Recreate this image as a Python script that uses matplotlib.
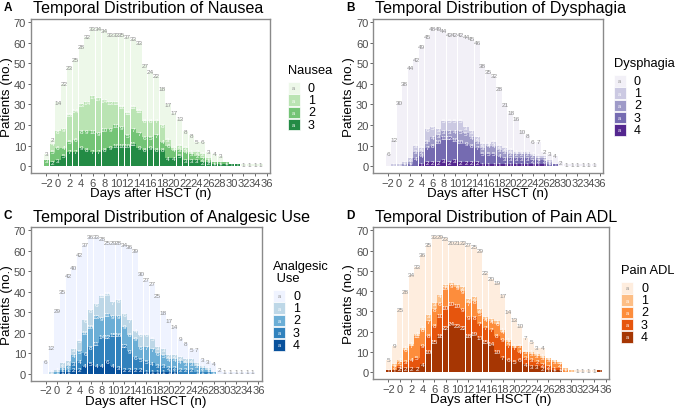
import matplotlib
matplotlib.use("Agg")
import matplotlib.pyplot as plt
from matplotlib.patches import Rectangle

plt.rcParams['font.family'] = ['Liberation Sans', 'DejaVu Sans']

# dny po HSCT
days = list(range(-2, 36))

# Nausea (stupen 0-3)
nausea_0 = [3, 2, 14, 22, 23, 25, 28, 32, 33, 34, 34, 33, 33, 35, 37, 33, 33, 27, 24, 22, 18, 17, 17, 13, 8, 8, 5, 6, 3, 4, 3, 0, 0, 0, 1, 1, 1, 1]
nausea_1 = [0, 4, 8, 9, 13, 14, 13, 14, 17, 17, 14, 13, 11, 10, 11, 11, 11, 8, 8, 7, 8, 3, 1, 2, 2, 1, 2, 2, 1, 0, 0, 0, 0, 0, 0, 0, 0, 0]
nausea_2 = [3, 5, 6, 4, 5, 6, 8, 9, 10, 9, 10, 9, 10, 9, 5, 7, 7, 6, 5, 7, 4, 6, 4, 3, 4, 3, 2, 2, 1, 1, 1, 1, 0, 0, 0, 0, 0, 0]
nausea_3 = [0, 2, 3, 5, 7, 7, 9, 8, 7, 7, 8, 9, 10, 10, 10, 11, 9, 8, 9, 8, 8, 4, 4, 5, 3, 3, 3, 2, 2, 1, 1, 1, 1, 1, 0, 0, 0, 0]

# Dysphagia (stupen 0-4)
dys_0 = [6, 12, 30, 38, 44, 42, 49, 45, 48, 49, 44, 42, 42, 42, 44, 45, 46, 38, 35, 32, 28, 21, 18, 16, 10, 8, 6, 7, 2, 3, 4, 2, 1, 1, 1, 1, 1, 1]
dys_1 = [0, 1, 1, 1, 2, 3, 2, 6, 5, 3, 5, 5, 5, 5, 3, 3, 2, 2, 1, 2, 2, 2, 2, 1, 1, 1, 1, 1, 1, 1, 0, 0, 0, 0, 0, 0, 0, 0]
dys_2 = [0, 0, 0, 1, 1, 3, 2, 3, 4, 3, 3, 3, 4, 5, 5, 4, 3, 3, 4, 4, 3, 3, 2, 2, 2, 2, 2, 1, 1, 1, 0, 0, 0, 0, 0, 0, 0, 0]
dys_3 = [0, 0, 0, 0, 1, 4, 4, 7, 8, 10, 11, 12, 10, 10, 9, 8, 7, 5, 5, 5, 4, 3, 3, 3, 3, 3, 2, 2, 2, 1, 1, 0, 0, 0, 0, 0, 0, 0]
dys_4 = [0, 0, 0, 0, 0, 0, 1, 2, 2, 2, 3, 2, 3, 2, 2, 2, 2, 1, 1, 1, 1, 1, 1, 1, 1, 1, 1, 1, 1, 0, 0, 0, 0, 0, 0, 0, 0, 0]

# Analgesic Use (stupen 0-4)
anal_0 = [6, 12, 29, 35, 42, 40, 42, 37, 36, 33, 28, 25, 29, 28, 34, 36, 39, 30, 27, 27, 25, 18, 17, 14, 9, 8, 5, 7, 3, 3, 4, 2, 1, 1, 1, 1, 1, 1]
anal_1 = [0, 1, 1, 2, 2, 3, 5, 6, 8, 6, 11, 10, 7, 8, 6, 7, 4, 6, 6, 5, 3, 3, 2, 2, 2, 2, 2, 1, 1, 1, 0, 0, 0, 0, 0, 0, 0, 0]
anal_2 = [0, 0, 1, 1, 2, 4, 5, 10, 10, 13, 9, 11, 9, 9, 9, 8, 9, 6, 7, 7, 6, 5, 4, 4, 4, 3, 3, 3, 2, 1, 1, 0, 0, 0, 0, 0, 0, 0]
anal_3 = [0, 0, 0, 1, 1, 3, 4, 6, 8, 11, 14, 12, 15, 16, 12, 9, 6, 5, 5, 4, 3, 3, 2, 2, 2, 2, 2, 1, 1, 1, 0, 0, 0, 0, 0, 0, 0, 0]
anal_4 = [0, 0, 0, 1, 1, 2, 2, 4, 5, 4, 4, 6, 4, 3, 2, 2, 2, 2, 1, 1, 1, 1, 1, 1, 0, 0, 0, 0, 0, 0, 0, 0, 0, 0, 0, 0, 0, 0]

# Pain ADL (stupen 0-4)
pain_0 = [5, 9, 25, 28, 34, 33, 36, 35, 33, 29, 23, 20, 21, 22, 27, 25, 29, 22, 20, 19, 17, 14, 13, 10, 7, 5, 3, 4, 0, 0, 0, 0, 0, 1, 1, 1, 1, 0]
pain_1 = [0, 1, 1, 1, 1, 1, 1, 3, 3, 4, 1, 1, 1, 2, 2, 2, 2, 1, 1, 1, 1, 1, 0, 0, 0, 1, 1, 1, 1, 1, 1, 1, 1, 0, 0, 0, 0, 0]
pain_2 = [0, 2, 2, 6, 7, 11, 8, 7, 8, 6, 10, 9, 9, 9, 7, 8, 5, 4, 4, 6, 4, 2, 1, 3, 3, 3, 3, 3, 3, 3, 2, 1, 0, 0, 0, 0, 0, 0]
pain_3 = [0, 0, 1, 3, 4, 5, 9, 8, 8, 10, 10, 10, 10, 9, 9, 8, 7, 7, 7, 8, 9, 7, 7, 4, 3, 3, 2, 2, 2, 1, 1, 0, 0, 0, 0, 0, 0, 0]
pain_4 = [1, 1, 2, 2, 2, 2, 4, 10, 15, 18, 22, 24, 23, 22, 18, 19, 17, 15, 14, 10, 7, 6, 5, 6, 4, 3, 3, 2, 1, 1, 1, 0, 0, 0, 0, 0, 0, 1]

greens = ['#edf8e9', '#bae4b3', '#74c476', '#238b45']
purples = ['#f2f0f7', '#cbc9e2', '#9e9ac8', '#756bb1', '#54278f']
blues = ['#eff3ff', '#bdd7e7', '#6baed6', '#3182bd', '#08519c']
oranges = ['#feedde', '#fdbe85', '#fd8d3c', '#e6550d', '#a63603']

W, H = 677, 410


def px(x, y):
    return x / W, 1 - y / H


def panel(rect, grades, colors, title, letter, legend_title, leg):
    left, top, right, bottom = rect
    ax = fig.add_axes([left / W, 1 - bottom / H, (right - left) / W, (bottom - top) / H])
    # poradi stohu: nejvyssi stupen dole, stupen 0 nahore
    base = [0] * len(days)
    for g in range(len(grades) - 1, -1, -1):
        vals = grades[g]
        ax.bar(days, vals, width=0.9, bottom=base, color=colors[g], edgecolor='none', zorder=2)
        for d, v, b in zip(days, vals, base):
            if v > 0:
                ax.text(d, b + v, str(v), ha='center', va='center', fontsize=4.6,
                        color='#8c8c8c' if g == 0 else 'white', zorder=3)
        base = [b + v for b, v in zip(base, vals)]
    ax.set_xlim(-4.7, 36.6)
    ax.set_ylim(-3.4, 71.5)
    ax.set_xticks(range(-2, 37, 2))
    ax.set_yticks(range(0, 71, 10))
    ax.tick_params(colors='#4d4d4d', labelsize=8, length=2.5, width=0.6, pad=0.8)
    for s in ax.spines.values():
        s.set_color('#8a8a8a')
        s.set_linewidth(1.0)
    # popisky os
    fig.text(*px((left + right) / 2, bottom + 20), 'Days after HSCT (n)', fontsize=9.6,
             ha='center', va='center')
    fig.text(*px(left - 24, (top + bottom) / 2), 'Patients (no.)', fontsize=9.6,
             ha='center', va='center', rotation=90)
    fig.text(*px(left + 2, top - 11), title, fontsize=11.6, va='center', ha='left')
    fig.text(*px(left - 27, top - 12), letter, fontsize=8.5, fontweight='bold', va='center', ha='left')

    # legenda
    lx, ly = leg
    fig.text(*px(lx, ly), legend_title, fontsize=9.3, va='bottom', ha='left', linespacing=1.0)
    for g, c in enumerate(colors):
        y0 = ly + 6 + g * 12.3
        fig.patches.append(Rectangle(px(lx, y0 + 11.5), 11.5 / W, 11.5 / H, transform=fig.transFigure,
                                     facecolor=c, edgecolor='white', linewidth=0.5))
        fig.text(*px(lx + 5.75, y0 + 5.75), 'a', fontsize=4, ha='center', va='center',
                 color='#8c8c8c' if g == 0 else 'white')
        fig.text(*px(lx + 20, y0 + 5.75), str(g), fontsize=9, ha='left', va='center', color='black')
    return ax


fig = plt.figure(figsize=(W / 100, H / 100), dpi=100)

panel((30.7, 20, 270, 174.3), [nausea_0, nausea_1, nausea_2, nausea_3], greens,
      'Temporal Distribution of Nausea', 'A', 'Nausea', (288, 77))
panel((373, 20, 603, 174.3), [dys_0, dys_1, dys_2, dys_3, dys_4], purples,
      'Temporal Distribution of Dysphagia', 'B', 'Dysphagia', (614, 70))
panel((30.7, 228.3, 261.7, 381.7), [anal_0, anal_1, anal_2, anal_3, anal_4], blues,
      'Temporal Distribution of Analgesic Use', 'C', 'Analgesic\n Use', (273, 285))
panel((373, 228.3, 609, 380), [pain_0, pain_1, pain_2, pain_3, pain_4], oranges,
      'Temporal Distribution of Pain ADL', 'D', 'Pain ADL', (621, 277))

fig.savefig('out.png', dpi=100)
